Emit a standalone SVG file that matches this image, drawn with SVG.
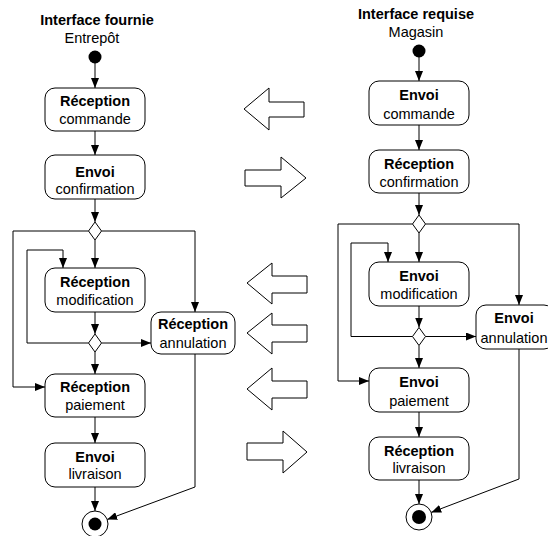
<svg xmlns="http://www.w3.org/2000/svg" width="548" height="536" viewBox="0 0 548 536">
<style>
text{font-family:"Liberation Sans",Arial,sans-serif;font-size:14.5px;fill:#000;text-anchor:middle}
.b{font-weight:bold}
.box{fill:#fff;stroke:#000;stroke-width:1}
.dia{fill:#fff;stroke:#000;stroke-width:1}
.c{fill:none;stroke:#000;stroke-width:1}
.ba{fill:#fff;stroke:#000;stroke-width:1}
</style>
<defs>
<marker id="ah" viewBox="0 0 10 8" refX="10" refY="4" markerWidth="10" markerHeight="8" markerUnits="userSpaceOnUse" orient="auto">
<path d="M0,0 L10,4 L0,8 z" fill="#000"/>
</marker>
</defs>
<rect width="548" height="536" fill="#fff"/>

<g id="titles">
<text class="b" x="97" y="25">Interface fournie</text>
<text x="92" y="43">Entrepôt</text>
<text class="b" x="416" y="19">Interface requise</text>
<text x="416" y="37">Magasin</text>
</g>

<g id="connectors">
<!-- left column -->
<line class="c" x1="95" y1="63" x2="95" y2="88" marker-end="url(#ah)"/>
<line class="c" x1="95" y1="131" x2="95" y2="155" marker-end="url(#ah)"/>
<line class="c" x1="95" y1="199" x2="95" y2="222" marker-end="url(#ah)"/>
<line class="c" x1="95" y1="240" x2="95" y2="268" marker-end="url(#ah)"/>
<line class="c" x1="95" y1="312" x2="95" y2="334" marker-end="url(#ah)"/>
<line class="c" x1="95" y1="352" x2="95" y2="374" marker-end="url(#ah)"/>
<line class="c" x1="95" y1="417" x2="95" y2="443" marker-end="url(#ah)"/>
<line class="c" x1="95" y1="487" x2="95" y2="511" marker-end="url(#ah)"/>
<polyline class="c" points="88.5,231 13,231 13,387 45,387" marker-end="url(#ah)"/>
<polyline class="c" points="101.5,231 195,231 195,312" marker-end="url(#ah)"/>
<polyline class="c" points="88.5,343 27,343 27,250 63,250 63,268" marker-end="url(#ah)"/>
<line class="c" x1="101.5" y1="343" x2="151" y2="343" marker-end="url(#ah)"/>
<polyline class="c" points="195,354 195,487 107.2,519.5" marker-end="url(#ah)"/>
<!-- right column -->
<line class="c" x1="419" y1="57" x2="419" y2="81" marker-end="url(#ah)"/>
<line class="c" x1="419" y1="125" x2="419" y2="150" marker-end="url(#ah)"/>
<line class="c" x1="419" y1="193" x2="419" y2="215" marker-end="url(#ah)"/>
<line class="c" x1="419" y1="233" x2="419" y2="262" marker-end="url(#ah)"/>
<line class="c" x1="419" y1="306" x2="419" y2="327.5" marker-end="url(#ah)"/>
<line class="c" x1="419" y1="345.5" x2="419" y2="368" marker-end="url(#ah)"/>
<line class="c" x1="419" y1="412" x2="419" y2="437" marker-end="url(#ah)"/>
<line class="c" x1="419" y1="480" x2="419" y2="504" marker-end="url(#ah)"/>
<polyline class="c" points="412.5,224 338,224 338,381 369,381" marker-end="url(#ah)"/>
<polyline class="c" points="425.5,224 519,224 519,305" marker-end="url(#ah)"/>
<polyline class="c" points="412.5,336.5 351,336.5 351,243 388,243 388,262" marker-end="url(#ah)"/>
<line class="c" x1="425.5" y1="336.5" x2="476" y2="336.5" marker-end="url(#ah)"/>
<polyline class="c" points="519,349 519,479 431.2,512.4" marker-end="url(#ah)"/>
</g>

<g id="start-left"><circle cx="95" cy="57" r="6.5" fill="#000"/></g>
<g id="start-right"><circle cx="419" cy="51" r="6.5" fill="#000"/></g>

<g id="l-reception-commande">
<rect class="box" x="45" y="88" width="100" height="43" rx="10"/>
<text class="b" x="95" y="106">Réception</text><text x="95" y="124">commande</text>
</g>
<g id="l-envoi-confirmation">
<rect class="box" x="45" y="155" width="100" height="44" rx="10"/>
<text class="b" x="95" y="177">Envoi</text><text x="95" y="194">confirmation</text>
</g>
<g id="l-decision1"><polygon class="dia" points="95,222 101.5,231 95,240 88.5,231"/></g>
<g id="l-reception-modification">
<rect class="box" x="45" y="268" width="100" height="44" rx="10"/>
<text class="b" x="95" y="287">Réception</text><text x="95" y="305">modification</text>
</g>
<g id="l-decision2"><polygon class="dia" points="95,334 101.5,343 95,352 88.5,343"/></g>
<g id="l-reception-annulation">
<rect class="box" x="151" y="312" width="84" height="42" rx="10"/>
<text class="b" x="193" y="329">Réception</text><text x="193" y="348">annulation</text>
</g>
<g id="l-reception-paiement">
<rect class="box" x="45" y="374" width="100" height="43" rx="10"/>
<text class="b" x="95" y="392">Réception</text><text x="95" y="410">paiement</text>
</g>
<g id="l-envoi-livraison">
<rect class="box" x="45" y="443" width="100" height="44" rx="10"/>
<text class="b" x="95" y="462">Envoi</text><text x="95" y="479">livraison</text>
</g>
<g id="l-end">
<circle cx="95" cy="524" r="13" fill="#fff" stroke="#000"/>
<circle cx="95" cy="524" r="6.5" fill="#000"/>
</g>

<g id="r-envoi-commande">
<rect class="box" x="369" y="81" width="100" height="44" rx="10"/>
<text class="b" x="419" y="100">Envoi</text><text x="419" y="119">commande</text>
</g>
<g id="r-reception-confirmation">
<rect class="box" x="369" y="150" width="100" height="43" rx="10"/>
<text class="b" x="419" y="169">Réception</text><text x="419" y="187">confirmation</text>
</g>
<g id="r-decision1"><polygon class="dia" points="419,215 425.5,224 419,233 412.5,224"/></g>
<g id="r-envoi-modification">
<rect class="box" x="369" y="262" width="100" height="44" rx="10"/>
<text class="b" x="419" y="281">Envoi</text><text x="419" y="299">modification</text>
</g>
<g id="r-decision2"><polygon class="dia" points="419,327.5 425.5,336.5 419,345.5 412.5,336.5"/></g>
<g id="r-envoi-annulation">
<rect class="box" x="476" y="305" width="78" height="44" rx="10"/>
<text class="b" x="514" y="323">Envoi</text><text x="514" y="343">annulation</text>
</g>
<g id="r-envoi-paiement">
<rect class="box" x="369" y="368" width="100" height="44" rx="10"/>
<text class="b" x="419" y="387">Envoi</text><text x="419" y="406">paiement</text>
</g>
<g id="r-reception-livraison">
<rect class="box" x="369" y="437" width="100" height="43" rx="10"/>
<text class="b" x="419" y="456">Réception</text><text x="419" y="473">livraison</text>
</g>
<g id="r-end">
<circle cx="419" cy="517" r="13" fill="#fff" stroke="#000"/>
<circle cx="419" cy="517" r="7" fill="#000"/>
</g>

<g id="exchange-arrows">
<polygon class="ba" points="244,109 269,88 269,102 304,102 304,117 269,117 269,130"/>
<polygon class="ba" points="245,170 281,170 281,157 306,178 281,198 281,186 245,186"/>
<polygon class="ba" points="247,283 272,263 272,276 307,276 307,293 272,293 272,304"/>
<polygon class="ba" points="247,333 272,313 272,325 307,325 307,342 272,342 272,354"/>
<polygon class="ba" points="247,389 272,368 272,381 307,381 307,398 272,398 272,410"/>
<polygon class="ba" points="247,443 283,443 283,431 307,452 283,473 283,460 247,460"/>
</g>
</svg>
